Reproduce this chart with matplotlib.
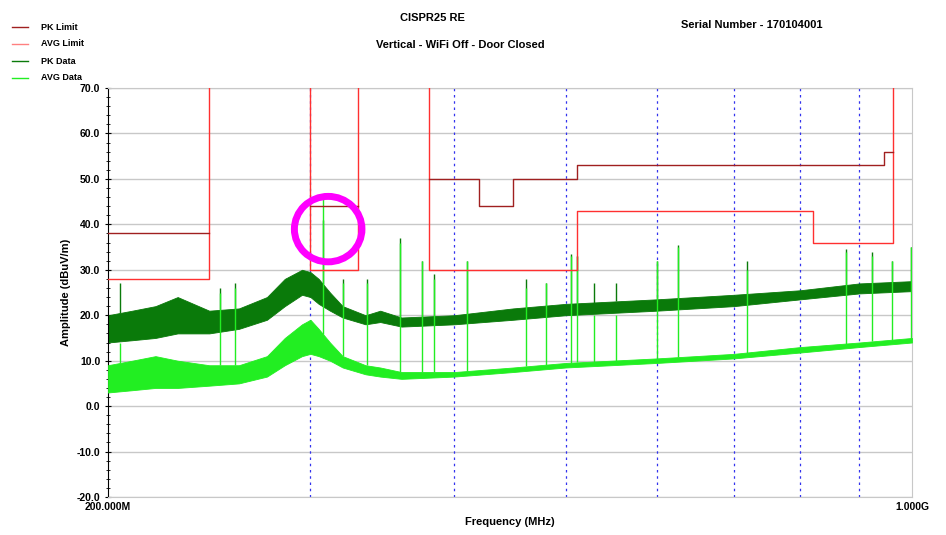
import matplotlib
matplotlib.use("Agg")
import matplotlib.pyplot as plt
from matplotlib.patches import Ellipse
from matplotlib.ticker import FixedLocator, NullFormatter, MultipleLocator
import numpy as np

plt.rcParams['font.family'] = ['Liberation Sans', 'DejaVu Sans']
plt.rcParams['font.weight'] = 'bold'

# Limits (MHz, dBuV/m) as step outlines
avg_lim_f = [200, 245, 245]
avg_lim_v = [28, 28, 70]
avg_lim2_f = [300, 300, 330, 330]
avg_lim2_v = [70, 30, 30, 70]
avg_lim3_f = [380, 380, 512, 512, 820, 820, 962, 962]
avg_lim3_v = [70, 30, 30, 43, 43, 36, 36, 70]
pk_lim_f = [200, 245]
pk_lim_v = [38, 38]
pk_lim2_f = [300, 330]
pk_lim2_v = [44, 44]
pk_lim3_f = [380, 420, 420, 450, 450, 512, 512, 945, 945, 962]
pk_lim3_v = [50, 50, 44, 44, 50, 50, 53, 53, 56, 56]

# Data envelopes
env_f = [200, 210, 220, 230, 245, 260, 275, 285, 295, 300, 305, 312, 320, 335, 345, 360, 400, 450, 500, 600, 700, 800, 900, 1000]
pk_lo = [14, 14.5, 15, 16, 16, 17, 19, 22, 24.5, 24, 22.5, 21, 19.5, 18, 18.5, 17.5, 18, 19, 20, 21, 22, 23.5, 24.8, 25.3]
pk_hi = [20, 21, 22, 24, 21, 21.5, 24, 28, 30, 29.5, 28, 25, 22, 20, 21, 19.5, 20, 21.5, 22.5, 23.5, 24.5, 25.5, 27, 27.5]
avg_lo = [3, 3.5, 4, 4, 4.5, 5, 6.5, 9, 11, 11.5, 11, 10, 8.5, 7, 6.5, 6, 6.5, 7.5, 8.5, 9.5, 10.5, 11.8, 13, 14]
avg_hi = [9, 10, 11, 10, 9, 9, 11, 15, 18, 19, 17, 14, 11, 9, 8.5, 7.5, 7.5, 8.5, 9.5, 10.5, 11.5, 13, 14, 15]

# Spikes: frequency, PK height, AVG height
spk_f = [204.9, 250.2, 257.9, 307.6, 320.1, 335.9, 358.9, 375, 384.2, 410.3, 461.8, 480.6, 505.3, 512, 529, 552.9, 600, 625.9, 718.8, 876, 923, 960.6, 998]
spk_pk = [27, 26, 27, 41, 28, 28, 37, 32, 29, 32, 28, 27, 33.5, 33, 27, 27, 32, 35.5, 32, 34.5, 34, 32, 35]
spk_av = [14, 25, 26, 45.5, 27, 27, 36, 32, 28, 32, 26, 27, 33, 33, 20, 20, 32, 35, 30, 34, 33, 32, 35]

fig = plt.figure(figsize=(9.46, 5.35), dpi=100)
ax = fig.add_axes([0.114, 0.071, 0.850, 0.7645])
ax.set_xscale('log')
ax.set_xlim(200, 1000)
ax.set_ylim(-20, 70)

for v in range(-20, 71, 10):
    ax.axhline(v, color='#c8c8c8', lw=1.0, zorder=0)
for f in [300, 400, 500, 600, 700, 800, 900]:
    ax.axvline(f, color='#3333ee', lw=0.9, ls=(0, (2, 3)), zorder=0)

ax.fill_between(env_f, pk_lo, pk_hi, color='#0a7a0a', lw=0.6, zorder=2)
ax.fill_between(env_f, avg_lo, avg_hi, color='#22ee22', lw=0.6, zorder=3)
ax.vlines(spk_f, np.interp(spk_f, env_f, pk_hi), spk_pk, color='#0a7a0a', lw=1.0, zorder=2)
ax.vlines(spk_f, np.interp(spk_f, env_f, avg_hi), spk_av, color='#22ee22', lw=1.0, zorder=3)

red = '#ff3030'
dred = '#a02020'
for fx, vy in [(avg_lim_f, avg_lim_v), (avg_lim2_f, avg_lim2_v), (avg_lim3_f, avg_lim3_v)]:
    ax.plot(fx, vy, color=red, lw=1.0, zorder=4)
for fx, vy in [(pk_lim_f, pk_lim_v), (pk_lim2_f, pk_lim2_v), (pk_lim3_f, pk_lim3_v)]:
    ax.plot(fx, vy, color=dred, lw=1.0, zorder=5)

ax.add_patch(Ellipse((0.274, 0.655), 0.084, 0.16, angle=0, transform=ax.transAxes,
                     fill=False, ec='#ff00ff', lw=5, zorder=6))

ax.xaxis.set_major_locator(FixedLocator([200, 1000]))
ax.set_xticklabels(['200.000M', '1.000G'])
ax.xaxis.set_minor_formatter(NullFormatter())
ax.tick_params(axis='x', which='both', length=0, labelsize=7.5)
ax.yaxis.set_major_locator(MultipleLocator(10))
ax.yaxis.set_minor_locator(MultipleLocator(2))
ax.set_yticks(range(-20, 71, 10))
ax.set_yticklabels([f"{v:.1f}" for v in range(-20, 71, 10)])
ax.tick_params(axis='y', which='major', length=4, direction='inout', labelsize=7.5)
ax.tick_params(axis='y', which='minor', length=3, direction='inout')
for s in ['top', 'right']:
    ax.spines[s].set_color('#c8c8c8')
ax.spines['bottom'].set_color('#c8c8c8')
ax.set_xlabel('Frequency (MHz)', fontsize=8, fontweight='bold')
ax.set_ylabel('Amplitude (dBuV/m)', fontsize=8, fontweight='bold')

fig.text(0.457, 0.966, 'CISPR25 RE', ha='center', va='center', fontsize=8)
fig.text(0.487, 0.916, 'Vertical - WiFi Off - Door Closed', ha='center', va='center', fontsize=8)
fig.text(0.795, 0.953, 'Serial Number - 170104001', ha='center', va='center', fontsize=8)

leg = [('PK Limit', dred), ('AVG Limit', '#ff8080'), ('PK Data', '#0a7a0a'), ('AVG Data', '#22ee22')]
for i, (lab, c) in enumerate(leg):
    yy = 1 - (27 + i * 17) / 535
    fig.lines.append(plt.Line2D([0.013, 0.030], [yy, yy], color=c, lw=1, transform=fig.transFigure))
    fig.text(0.043, yy, lab, va='center', fontsize=6.5)

fig.savefig('out.png', dpi=100)
